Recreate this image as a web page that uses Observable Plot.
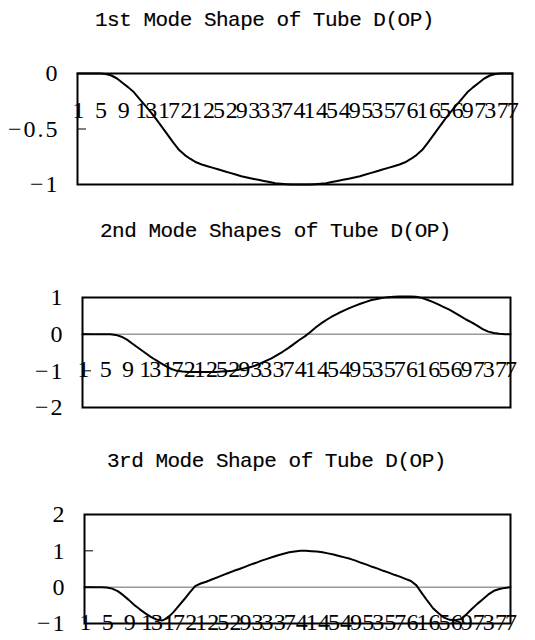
<!DOCTYPE html>
<html>
<head>
<meta charset="utf-8">
<script src="https://cdn.jsdelivr.net/npm/d3@7"></script>
<script src="https://cdn.jsdelivr.net/npm/@observablehq/plot@0.6"></script>
<style>
  html, body { margin: 0; padding: 0; background: #fff; }
  #root { position: relative; width: 535px; height: 640px; overflow: hidden; background: #fff; }
  .title { position: absolute; font-family: "Liberation Mono", monospace; font-size: 21px; line-height: 21px; letter-spacing: -0.5px; color: #000; white-space: nowrap; -webkit-text-stroke: 0.15px #000; }
  .chart { position: absolute; left: 0; }
</style>
</head>
<body>
<div id="root"></div>
<script>
// ---- data ----
const titles = [
  "1st Mode Shape of Tube D(OP)",
  "2nd Mode Shapes of Tube D(OP)",
  "3rd Mode Shape of Tube D(OP)"
];

// category index along the tube (1..78)
const categories = Array.from({length: 78}, (_, i) => i + 1);

const xTickLabels = [1, 5, 9, 13, 17, 21, 25, 29, 33, 37, 41, 45, 49, 53, 57, 61, 65, 69, 73, 77];

const mode1 = [
  0, 0, 0, 0, 0,
  -0.005, -0.018, -0.045, -0.085, -0.125,
  -0.17, -0.23, -0.29, -0.35, -0.415,
  -0.485, -0.555, -0.625, -0.69, -0.735,
  -0.77, -0.8, -0.82, -0.835, -0.85,
  -0.865, -0.88, -0.895, -0.91, -0.925,
  -0.937, -0.948, -0.958, -0.968, -0.978,
  -0.988, -0.993, -0.997, -1, -1,
  -1, -1, -0.997, -0.993, -0.988,
  -0.978, -0.968, -0.958, -0.948, -0.937,
  -0.925, -0.91, -0.895, -0.88, -0.865,
  -0.85, -0.835, -0.82, -0.8, -0.77,
  -0.735, -0.69, -0.625, -0.555, -0.485,
  -0.415, -0.35, -0.29, -0.23, -0.17,
  -0.125, -0.085, -0.045, -0.018, -0.005,
  0, 0, 0
];

const mode2 = [
  0, 0, 0, 0, 0, 0,
  -0.02, -0.07, -0.15, -0.26, -0.37, -0.48, -0.59, -0.69, -0.78, -0.87, -0.95,
  -1.0, -1.02, -1.03, -1.03, -1.03, -1.03, -1.03, -1.03, -1.02, -1.01, -1.0,
  -0.97, -0.94, -0.91, -0.86, -0.8, -0.73, -0.66, -0.57, -0.48, -0.38, -0.27, -0.16, -0.06,
  0.06, 0.19, 0.3, 0.4, 0.49, 0.57, 0.64, 0.71, 0.77, 0.83, 0.88, 0.93, 0.96, 0.99, 1.01, 1.02, 1.03, 1.03, 1.03, 1.02,
  0.99, 0.94, 0.88, 0.81, 0.74, 0.67, 0.58, 0.49, 0.4, 0.32, 0.23, 0.14, 0.07, 0.03, 0.01, 0, 0
];

const mode3 = [
  0, 0, 0, 0, -0.01,
  -0.04, -0.11, -0.22, -0.35, -0.49,
  -0.61, -0.72, -0.82, -0.89, -0.92,
  -0.85, -0.7, -0.52, -0.34, -0.15,
  0.03, 0.1, 0.15, 0.21, 0.27,
  0.33, 0.39, 0.45, 0.5, 0.56,
  0.62, 0.67, 0.73, 0.78, 0.83,
  0.88, 0.92, 0.96, 0.98, 1.0,
  1.0, 0.99, 0.98, 0.96, 0.93,
  0.9, 0.86, 0.82, 0.78, 0.73,
  0.67, 0.62, 0.56, 0.51, 0.45,
  0.4, 0.34, 0.29, 0.23, 0.17,
  0.05, -0.17, -0.38, -0.58, -0.72,
  -0.84, -0.9, -0.91, -0.88, -0.75,
  -0.6, -0.46, -0.33, -0.2, -0.1,
  -0.05, -0.02, 0
];

const yTicks1 = [0, -0.5, -1];
const yTickLabels1 = ["0", "\u22120.5", "\u22121"];
const yTicks2 = [1, 0, -1, -2];
const yTickLabels2 = ["1", "0", "\u22121", "\u22122"];
const yTicks3 = [2, 1, 0, -1];
const yTickLabels3 = ["2", "1", "0", "\u22121"];

// ---- layout ----
const panels = [
  {title: titles[0], titleTop: 10, titleLeft: 95, top: 50, height: 170, mt: 23, mb: 36, ml: 77, mr: 23, dy: 37,
   domain: [-1, 0], values: mode1, ticks: yTicks1, labels: yTickLabels1},
  {title: titles[1], titleTop: 221, titleLeft: 100, top: 270, height: 160, mt: 27, mb: 23, ml: 82, mr: 25, dy: 35,
   domain: [-2, 1], values: mode2, ticks: yTicks2, labels: yTickLabels2},
  {title: titles[2], titleTop: 451, titleLeft: 107, top: 490, height: 150, mt: 24, mb: 17, ml: 84, mr: 25, dy: 35,
   domain: [-1, 2], values: mode3, ticks: yTicks3, labels: yTickLabels3}
];

const root = document.getElementById("root");
const W = 535;

for (const p of panels) {
  const t = document.createElement("div");
  t.className = "title";
  t.style.top = p.titleTop + "px";
  t.style.left = p.titleLeft + "px";
  t.textContent = p.title;
  root.appendChild(t);

  const data = categories.map((c, i) => ({x: c, y: p.values[i]}));
  const labelMap = new Map(p.ticks.map((d, i) => [d, p.labels[i]]));
  const frameW = W - p.ml - p.mr;
  // inward tick length (~9px) expressed in x units
  const tickLen = 9 * (categories.length - 1) / frameW;

  const svg = Plot.plot({
    width: W,
    height: p.height,
    marginTop: p.mt,
    marginBottom: p.mb,
    marginLeft: p.ml,
    marginRight: p.mr,
    style: {background: "transparent", fontFamily: "'Liberation Serif', serif", color: "#000", overflow: "visible"},
    x: {domain: [1, 78], axis: null},
    y: {domain: p.domain, axis: null},
    marks: [
      Plot.ruleY([0], {stroke: "#666", strokeWidth: 1}),
      Plot.frame({stroke: "#000", strokeWidth: 2}),
      Plot.ruleY(p.ticks, {y: d => d, x1: () => 1, x2: () => 1 + tickLen, stroke: "#000", strokeWidth: 1}),
      Plot.axisY(p.ticks, {label: null, tickSize: 0, tickPadding: 18, tickFormat: d => labelMap.get(d),
        fontSize: 24, fontFamily: "'Liberation Serif', serif", fill: "#000"}),
      Plot.line(data, {x: "x", y: "y", stroke: "#000", strokeWidth: 2}),
      Plot.text(xTickLabels, {x: d => d, y: () => 0, dy: p.dy, text: d => String(d),
        fontSize: 24, fontFamily: "'Liberation Serif', serif", fill: "#000"})
    ]
  });
  svg.classList.add("chart");
  svg.style.top = p.top + "px";
  svg.querySelectorAll('g[aria-label="text"] text').forEach(el => el.setAttribute("letter-spacing", "-2"));
  svg.querySelectorAll('g[aria-label="y-axis tick label"] text').forEach(el => el.setAttribute("letter-spacing", "2"));
  root.appendChild(svg);
}
</script>
</body>
</html>
